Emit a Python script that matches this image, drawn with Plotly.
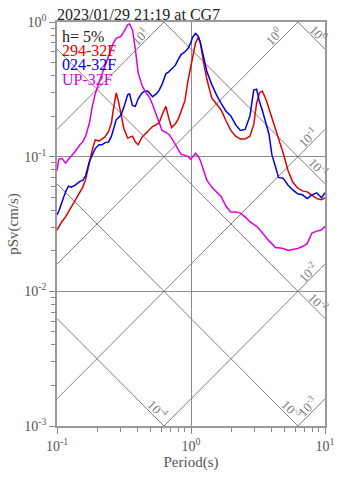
import numpy as np
import plotly.graph_objects as go

# ---------------- data ----------------
period = [0.100, 0.1033, 0.1086, 0.1159, 0.1218, 0.1279, 0.1366, 0.1483, 0.1557, 0.1636,
          0.1747, 0.1835, 0.1928, 0.2058, 0.2163, 0.2272, 0.2426, 0.2549, 0.2633, 0.2766,
          0.2858, 0.3002, 0.3154, 0.3368, 0.3480, 0.3656, 0.3840, 0.4034, 0.4308, 0.4526,
          0.4754, 0.4912, 0.5161, 0.5510, 0.5789, 0.6081, 0.6493, 0.6820, 0.7164, 0.7650,
          0.8036, 0.8443, 0.9015, 0.9470, 0.9945, 1.028, 1.080, 1.134, 1.172, 1.252,
          1.315, 1.427, 1.549, 1.682, 1.825, 1.982, 2.151, 2.335, 2.534, 2.751,
          2.938, 3.086, 3.241, 3.405, 3.636, 3.819, 4.012, 4.284, 4.500, 4.885,
          5.303, 5.756, 6.248, 6.783, 7.362, 7.991, 8.676, 9.417, 10.0]

psv_294 = [0.0285, 0.0304, 0.0329, 0.0357, 0.0388, 0.0428, 0.0480, 0.0548, 0.0594, 0.0678,
           0.0926, 0.1128, 0.1330, 0.1308, 0.1352, 0.1397, 0.1541, 0.1787, 0.2248, 0.2971,
           0.2649, 0.2105, 0.1619, 0.1374, 0.1397, 0.1420, 0.1287, 0.1225, 0.1397, 0.1467,
           0.1541, 0.1593, 0.1673, 0.1729, 0.1787, 0.2037, 0.2362, 0.1940, 0.1646, 0.1757,
           0.1908, 0.2176, 0.2606, 0.3617, 0.4627, 0.5362, 0.6970, 0.7692, 0.7086, 0.4781,
           0.3738, 0.2737, 0.2481, 0.2211, 0.1847, 0.1567, 0.1420, 0.1352, 0.1352, 0.1420,
           0.1729, 0.2481, 0.2971, 0.3071, 0.2649, 0.2285, 0.1940, 0.1619, 0.1374, 0.1057,
           0.0786, 0.0645, 0.0585, 0.0557, 0.0548, 0.0513, 0.0488, 0.0480, 0.0496]

psv_024 = [0.0369, 0.0395, 0.0457, 0.0548, 0.0604, 0.0594, 0.0614, 0.0656, 0.0667, 0.0724,
           0.0926, 0.1039, 0.1148, 0.1225, 0.1225, 0.1266, 0.1287, 0.1420, 0.1593, 0.1877,
           0.1940, 0.2037, 0.2323, 0.2875, 0.2923, 0.2401, 0.2362, 0.2693, 0.2971, 0.3071,
           0.3071, 0.2971, 0.2782, 0.2923, 0.3121, 0.3444, 0.4125, 0.4261, 0.4477, 0.4781,
           0.5278, 0.5726, 0.6014, 0.6317, 0.6970, 0.7692, 0.8213, 0.7819, 0.7086, 0.5189,
           0.4261, 0.3444, 0.2875, 0.2481, 0.2176, 0.2004, 0.1729, 0.1567, 0.1593, 0.2004,
           0.3121, 0.3173, 0.2564, 0.2211, 0.1787, 0.1467, 0.1039, 0.0826, 0.0701, 0.0690,
           0.0614, 0.0566, 0.0530, 0.0521, 0.0488, 0.0521, 0.0539, 0.0496, 0.0539]

psv_up = [0.0786, 0.0957, 0.0973, 0.0896, 0.0957, 0.1005, 0.1092, 0.1225, 0.1287, 0.1420,
          0.1787, 0.2362, 0.2923, 0.3558, 0.4058, 0.4703, 0.5633, 0.6422, 0.6970, 0.7567,
          0.7692, 0.7819, 0.8487, 0.9519, 0.9677, 0.8770, 0.6317, 0.4192, 0.3388, 0.3071,
          0.2875, 0.2737, 0.2441, 0.2037, 0.1729, 0.1567, 0.1516, 0.1467, 0.1374, 0.1225,
          0.1110, 0.1039, 0.1022, 0.1005, 0.0957, 0.1005, 0.1057, 0.1005, 0.0941, 0.0773,
          0.0667, 0.0594, 0.0548, 0.0504, 0.0428, 0.0388, 0.0388, 0.0381, 0.0357, 0.0329,
          0.0314, 0.0304, 0.0289, 0.0271, 0.0253, 0.0237, 0.0226, 0.0211, 0.0211, 0.0208,
          0.0201, 0.0204, 0.0208, 0.0215, 0.0226, 0.0271, 0.0280, 0.0285, 0.0304]

series_names = ["294-32F", "024-32F", "UP-32F"]
series_colors = ["#e00000", "#0000e0", "#dd00dd"]

# tripartite guide levels
sa_levels = [10, 1, 0.1, 0.01, 0.001]          # pseudo acceleration (cm/s^2)
sa_labels = ["10<sup>1</sup>", "10<sup>0</sup>", "10<sup>-1</sup>", "10<sup>-2</sup>", "10<sup>-3</sup>"]
sd_levels = [1, 0.1, 0.01, 0.001, 0.0001]      # displacement (cm)
sd_labels = ["10<sup>0</sup>", "10<sup>-1</sup>", "10<sup>-2</sup>", "10<sup>-3</sup>", "10<sup>-4</sup>"]

x_ticks = [0.1, 1, 10]
x_ticktext = ["10<sup>-1</sup>", "10<sup>0</sup>", "10<sup>1</sup>"]
y_ticks = [0.001, 0.01, 0.1, 1]
y_ticktext = ["10<sup>-3</sup>", "10<sup>-2</sup>", "10<sup>-1</sup>", "10<sup>0</sup>"]

title_text = "2023/01/29 21:19 at CG7"
damping_text = "h= 5%"

# ---------------- figure ----------------
T_MIN, T_MAX = 0.1, 10.0
V_MIN, V_MAX = 0.001, 1.0
TWO_PI = 2 * np.pi
FONT = "Liberation Serif, Times New Roman, serif"
GUIDE = "#7f7f7f"
LABEL_FONT = dict(family=FONT, size=13, color="#7a7a7a")

fig = go.Figure()

px_per_dec = 140.0

# constant pseudo-acceleration lines (slope +1)
for sa, lab in zip(sa_levels, sa_labels):
    t0 = max(T_MIN, TWO_PI * V_MIN / sa)
    t1 = min(T_MAX, TWO_PI * V_MAX / sa)
    fig.add_trace(go.Scatter(x=[t0, t1], y=[sa * t0 / TWO_PI, sa * t1 / TWO_PI], mode="lines",
                             line=dict(color=GUIDE, width=1), hoverinfo="skip", showlegend=False))
    back = (20 if sa * t1 / TWO_PI >= V_MAX * 0.999 else 13) / px_per_dec
    lt = 10 ** (np.log10(t1) - back)
    lv = sa * lt / TWO_PI
    fig.add_annotation(x=np.log10(lt), y=np.log10(lv), text=lab, textangle=-45, showarrow=False,
                       xshift=-5, yshift=5, font=LABEL_FONT)

# constant displacement lines (slope -1)
for sd, lab in zip(sd_levels, sd_labels):
    t0 = max(T_MIN, TWO_PI * sd / V_MAX)
    t1 = min(T_MAX, TWO_PI * sd / V_MIN)
    fig.add_trace(go.Scatter(x=[t0, t1], y=[TWO_PI * sd / t0, TWO_PI * sd / t1], mode="lines",
                             line=dict(color=GUIDE, width=1), hoverinfo="skip", showlegend=False))
    back = 12 / px_per_dec
    lt = 10 ** (np.log10(t1) - back)
    lv = TWO_PI * sd / lt
    fig.add_annotation(x=np.log10(lt), y=np.log10(lv), text=lab, textangle=45, showarrow=False,
                       xshift=5, yshift=5, font=LABEL_FONT)

for name, vals, col in zip(series_names, [psv_294, psv_024, psv_up], series_colors):
    fig.add_trace(go.Scatter(x=period, y=vals, mode="lines", name=name,
                             line=dict(color=col, width=1.5), showlegend=False))

# legend-like text block
legend_lines = [(damping_text, "#222222")] + list(zip(series_names, series_colors))
for i, (txt, col) in enumerate(legend_lines):
    fig.add_annotation(xref="paper", yref="paper", x=0.012, y=1 - (15 + 14.8 * i) / 421,
                       xanchor="left", yanchor="middle", text=txt, showarrow=False,
                       font=dict(family=FONT, size=16, color=col))

fig.add_annotation(xref="paper", yref="paper", x=0, y=1, xanchor="left", yanchor="bottom",
                   text=title_text, showarrow=False, yshift=-3, xshift=-2,
                   font=dict(family=FONT, size=16, color="#222222"))

x_minor = [m * 10.0 ** k for k in (-1, 0) for m in range(2, 10)]
y_minor = [m * 10.0 ** k for k in (-3, -2, -1) for m in range(2, 10)]

axis_common = dict(type="log", showline=True, linecolor="#999999", linewidth=1.5, mirror=True,
                   showgrid=True, gridcolor="#8c8c8c", gridwidth=1, zeroline=False,
                   ticks="outside", ticklen=6, tickcolor="#888888",
                   tickfont=dict(family=FONT, size=14, color="#555555"))

fig.update_layout(
    width=347, height=478,
    margin=dict(l=53, r=14, t=15, b=42),
    plot_bgcolor="white", paper_bgcolor="white",
    showlegend=False,
    xaxis=dict(range=[-1, 1], tickvals=x_ticks, ticktext=x_ticktext,
               minor=dict(tickvals=x_minor, ticks="outside", ticklen=4, tickcolor="#888888", showgrid=False),
               title=dict(text="Period(s)", font=dict(family=FONT, size=15, color="#555555"), standoff=2),
               **axis_common),
    yaxis=dict(range=[-3, 0], tickvals=y_ticks, ticktext=y_ticktext,
               minor=dict(tickvals=y_minor, ticks="outside", ticklen=4, tickcolor="#888888", showgrid=False),
               title=dict(text="pSv(cm/s)", font=dict(family=FONT, size=15, color="#555555"), standoff=2),
               **axis_common),
)

fig.write_html("out.html")
